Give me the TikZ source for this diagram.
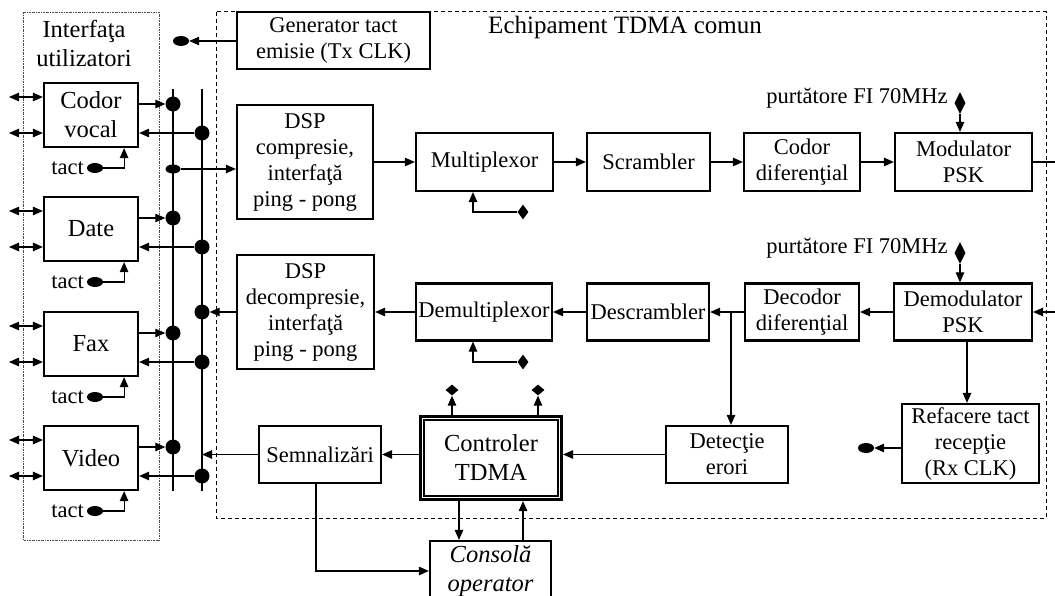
\documentclass[tikz,border=0pt]{standalone}
\usepackage{fontspec}
\setmainfont{Liberation Serif}
\usetikzlibrary{arrows.meta,shapes.geometric,calc}
\newcommand\fsn{\fontsize{22.5pt}{26pt}\selectfont}
\newcommand\fsb{\fontsize{24.5pt}{29pt}\selectfont}
\begin{document}
\begin{tikzpicture}[x=1pt,y=-1pt,
  box/.style={draw, line width=2.2pt, inner sep=0pt, align=center, font=\fsn},
  ubox/.style={box, font=\fsb, minimum width=94pt, minimum height=64pt},
  conn/.style={line width=1.1pt},
  arr/.style={conn, -{Triangle[length=10pt,width=8.5pt]}},
  darr/.style={conn, {Triangle[length=10pt,width=8.5pt]}-{Triangle[length=10pt,width=8.5pt]}},
  dotn/.style={circle, fill, inner sep=0pt, minimum size=15pt},
  ovaln/.style={ellipse, fill, inner sep=0pt, minimum width=16pt, minimum height=10pt},
  dmd/.style={diamond, fill, inner sep=0pt, minimum width=11pt, minimum height=15pt},
  bigdmd/.style={dmd, minimum height=22pt},
  flatdmd/.style={dmd, minimum width=13pt, minimum height=11pt},
  lbl/.style={font=\fsn, inner sep=0pt}]
\useasboundingbox (0,0) rectangle (1055,596);
\clip (0,0) rectangle (1055,596);

% frames
\draw[dash pattern=on 2pt off 1pt on 0.6pt off 1pt, line width=0.8pt, black!70] (23,12) rectangle (159,540);
\draw[dash pattern=on 4pt off 3pt, line width=1pt] (216,12) rectangle (1046,518);

\node[font=\fsb, align=center, inner sep=0pt] (uititle) at (84,43) {Interfaţa\\utilizatori};
\node[font=\fontsize{25pt}{30pt}\selectfont, inner sep=0pt] (eqtitle) at (625,27) {Echipament TDMA comun};

% buses
\coordinate (b1t) at (173,89); \coordinate (b1b) at (173,491);
\coordinate (b2t) at (202,89); \coordinate (b2b) at (202,491);
\draw[conn] (b1t) -- (b1b);
\draw[conn] (b2t) -- (b2b);

% user boxes
\foreach \n/\t/\y in {cv/{Codor\\vocal}/83, dt/{Date}/197, fx/{Fax}/312, vd/{Video}/426} {
  \node[ubox] (\n) at (91,\y+32) {\t};
  \coordinate (\n-l1) at (9,\y+14);
  \coordinate (\n-l2) at (9,\y+50);
  \draw[darr] (\n-l1) -- (\n-l1 -| \n.west);
  \draw[darr] (\n-l2) -- (\n-l2 -| \n.west);
  \node[dotn] (\n-o) at (173,\y+21) {};
  \node[dotn] (\n-i) at (202,\y+50) {};
  \draw[arr] (\n.east |- \n-o) -- (\n-o);
  \draw[arr] (\n-i) -- (\n.east |- \n-i);
  \node[ovaln] (\n-t) at (95,\y+85) {};
  \node[lbl, anchor=east] (\n-tt) at (84,\y+85) {tact};
  \draw[arr] (\n-t) -| ([xshift=-15pt]\n.south east);
}

% main boxes
\node[box, minimum width=193pt, minimum height=57pt] (gen) at (333.5,40.5) {Generator tact\\emisie (Tx CLK)};
\node[box, minimum width=136pt, minimum height=114pt] (dspc) at (305,162) {DSP\\compresie,\\interfaţă\\ping - pong};
\node[box, minimum width=137pt, minimum height=58pt] (mux) at (484.5,162) {Multiplexor};
\node[box, minimum width=123pt, minimum height=58pt] (scr) at (648.5,162) {Scrambler};
\node[box, minimum width=116pt, minimum height=58pt] (codd) at (802,162) {Codor\\diferenţial};
\node[box, minimum width=137pt, minimum height=58pt] (mod) at (963.5,162) {Modulator\\PSK};
\node[box, minimum width=137pt, minimum height=114pt] (dspd) at (305.5,312) {DSP\\decompresie,\\interfaţă\\ping - pong};
\node[box, minimum width=136pt, minimum height=57pt] (demux) at (484,312) {Demultiplexor};
\node[box, minimum width=122pt, minimum height=57pt] (descr) at (648,312) {Descrambler};
\node[box, minimum width=114pt, minimum height=57pt] (decd) at (802,312) {Decodor\\diferenţial};
\node[box, minimum width=138pt, minimum height=57pt] (demod) at (963,312) {Demodulator\\PSK};
\node[box, minimum width=122pt, minimum height=57pt] (det) at (727,454.5) {Detecţie\\erori};
\node[box, minimum width=137pt, minimum height=79pt] (ref) at (970.5,443.5) {Refacere tact\\recepţie\\(Rx CLK)};
\node[box, minimum width=122pt, minimum height=57pt] (sem) at (320,454.5) {Semnalizări};
\node[box, font=\fsb, minimum width=142pt, minimum height=84pt] (ctrl) at (491,458) {Controler\\TDMA};
\draw[line width=0.9pt] ($(ctrl.south west)+(2.7,-2.7)$) rectangle ($(ctrl.north east)+(-2.7,2.7)$);
\draw[line width=2.2pt] ($(ctrl.south west)+(5.4,-5.4)$) rectangle ($(ctrl.north east)+(-5.4,5.4)$);
\node[box, font=\fsb\itshape, minimum width=121pt, minimum height=60pt] (cons) at (490.5,571) {Consolă\\operator};

% carriers
\node[lbl] (pt1) at (857,98) {purtătore FI 70MHz};
\node[lbl] (pt2) at (857,248) {purtătore FI 70MHz};
\node[bigdmd] (dd1) at (960,103) {};
\node[bigdmd] (dd2) at (960,253) {};
\draw[arr] (dd1) -- (dd1 |- mod.north);
\draw[arr] (dd2) -- (dd2 |- demod.north);

% transmit chain
\node[ovaln, minimum width=15pt, minimum height=9pt] (bov) at (173,169) {};
\draw[arr] (bov) -- (bov -| dspc.west);
\draw[arr] (dspc) -- (mux);
\draw[arr] (mux) -- (scr);
\draw[arr] (scr) -- (codd);
\draw[arr] (codd) -- (mod);
\coordinate (mout) at (1055,162);
\draw[conn] (mod) -- (mout);

% receive chain
\coordinate (din) at (1055,312);
\draw[arr] (din) -- (demod);
\draw[arr] (demod) -- (decd);
\draw[arr] (decd) -- (descr);
\draw[arr] (descr) -- (demux);
\draw[arr] (demux) -- (dspd);
\node[dotn] (bdd) at (202,312) {};
\draw[arr] (dspd) -- (bdd);
\coordinate (br) at (731,312);
\draw[arr] (br) -- (br |- det.north);
\coordinate (dmS) at ([xshift=4pt]demod.south);
\draw[arr] (dmS) -- (dmS |- ref.north);
\node[ovaln] (rov) at (866,448) {};
\draw[arr] (ref.west |- rov) -- (rov);

% mux / demux diamonds
\node[dmd] (dm1) at (523,212) {};
\coordinate (muxS) at ([xshift=-11.5pt]mux.south);
\draw[arr] (dm1) -| (muxS);
\node[dmd] (dm2) at (523,362) {};
\coordinate (dmxS) at ([xshift=-11pt]demux.south);
\draw[arr] (dm2) -| (dmxS);

% generator
\node[ovaln] (gov) at (181,41) {};
\draw[arr] (gen.west |- gov) -- (gov);

% controller
\draw[arr] (det.west) -- (det.west -| ctrl.east);
\draw[arr] (ctrl.west |- sem.east) -- (sem.east);
\coordinate (semb) at (202,454.5);
\draw[arr] (sem.west) -- (semb);
\coordinate (semS) at ([xshift=-4pt]sem.south);
\draw[arr] (semS) |- (cons.west);
\coordinate (cd) at ([xshift=-32pt]ctrl.south);
\draw[arr] (cd) -- (cd |- cons.north);
\coordinate (cu) at ([xshift=32.5pt]cons.north);
\draw[arr] (cu) -- (cu |- ctrl.south);
\node[flatdmd] (dc1) at (452,390) {};
\node[flatdmd] (dc2) at (538,390) {};
\draw[arr] (dc1 |- ctrl.north) -- (dc1);
\draw[arr] (dc2 |- ctrl.north) -- (dc2);
\end{tikzpicture}
\end{document}
